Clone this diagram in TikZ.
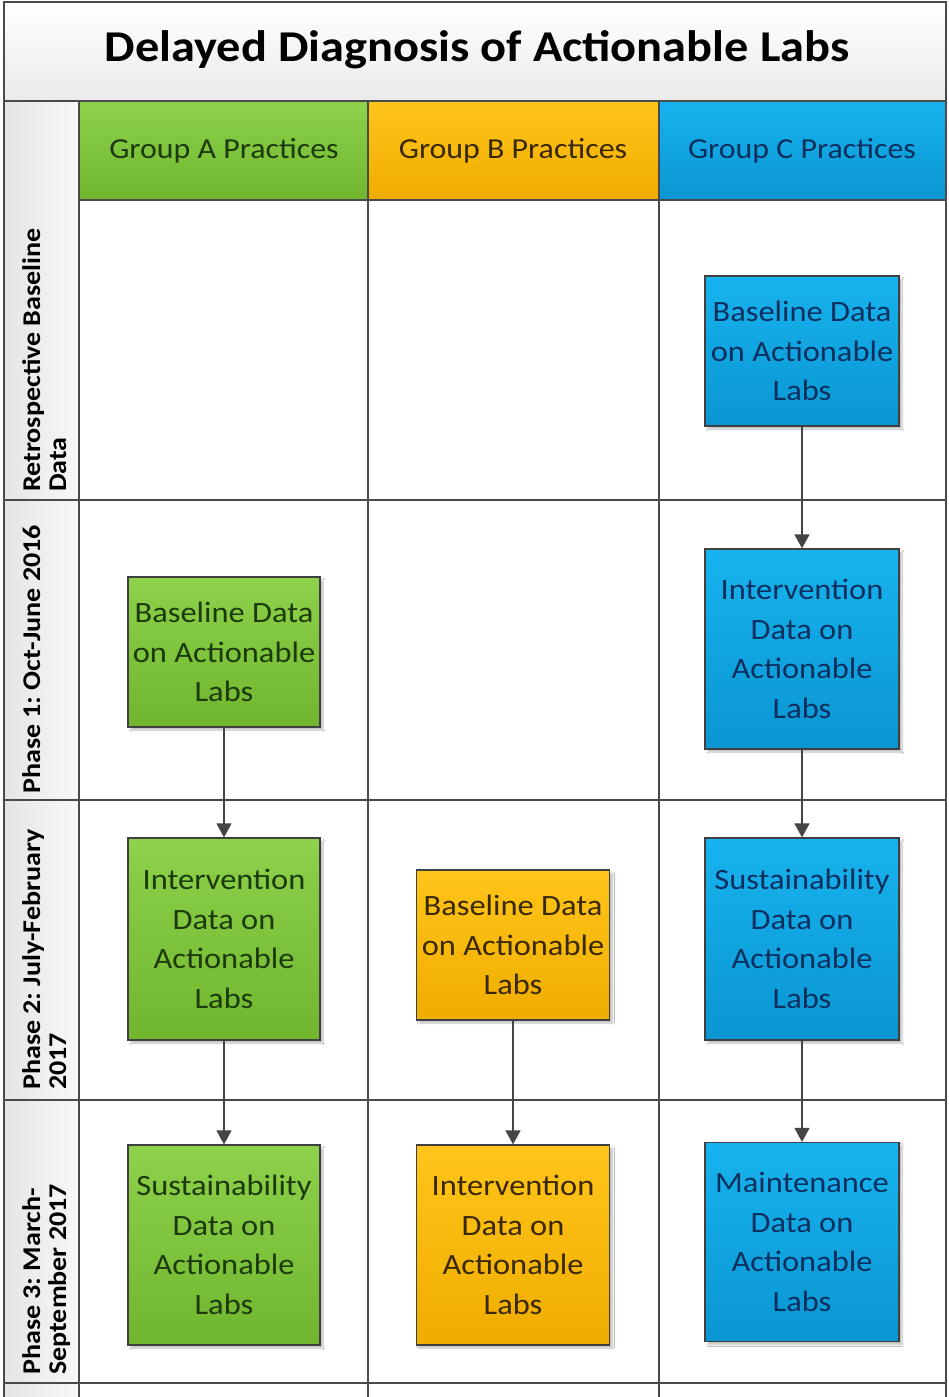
\documentclass[tikz,border=0pt]{standalone}
\usepackage{fontspec}
\setmainfont{Carlito}[FakeStretch=1.1]
\usetikzlibrary{arrows.meta,shadows.blur}
\frenchspacing

\definecolor{gridline}{HTML}{4A4A4A}
\definecolor{greenTop}{HTML}{8ED14B}
\definecolor{greenBot}{HTML}{6FB62E}
\definecolor{orangeTop}{HTML}{FFC51A}
\definecolor{orangeBot}{HTML}{F0AC00}
\definecolor{blueTop}{HTML}{17B3EE}
\definecolor{blueBot}{HTML}{0A96D2}
\definecolor{greenText}{HTML}{1C3A0C}
\definecolor{orangeText}{HTML}{3A2800}
\definecolor{blueText}{HTML}{0B2F5E}
\definecolor{arrowGray}{HTML}{454545}

\tikzset{
  grid/.style={draw=gridline, line width=1.4pt},
  databox/.style={draw=black!75, line width=1.2pt, align=center,
    font=\fontsize{29.5}{39.5}\selectfont, inner sep=0pt,
    blur shadow={shadow xshift=3pt, shadow yshift=-3pt, shadow blur steps=6, shadow opacity=25}},
  greenbox/.style={databox, top color=greenTop, bottom color=greenBot, text=greenText},
  orangebox/.style={databox, top color=orangeTop, bottom color=orangeBot, text=orangeText},
  bluebox/.style={databox, top color=blueTop, bottom color=blueBot, text=blueText},
  header/.style={font=\fontsize{29}{34}\selectfont},
  phaselabel/.style={rotate=90, anchor=base west, align=left, inner sep=0pt,
    font=\bfseries\fontsize{25.5}{26}\selectfont},
  flow/.style={draw=arrowGray, line width=1.3pt, -{Triangle[width=15pt,length=14pt]}}
}

\begin{document}
\begin{tikzpicture}[x=1pt, y=-1pt]
\useasboundingbox (0,0) rectangle (949,1397);
\fill[white] (0,0) rectangle (949,1397);

% title band
\shade[top color=white, bottom color=black!8] (4,2) rectangle (946,101);
\node[font=\bfseries\fontsize{44}{52}\selectfont] (title) at (477,50) {Delayed Diagnosis of Actionable Labs};

% phase label strip
\shade[left color=black!10, right color=black!3] (4,101) rectangle (79,1397);

% group header cells
\shade[top color=greenTop, bottom color=greenBot] (79,101) rectangle (368,200);
\shade[top color=orangeTop, bottom color=orangeBot] (368,101) rectangle (659,200);
\shade[top color=blueTop, bottom color=blueBot] (659,101) rectangle (946,200);
\node[header, text=greenText] (ha) at (224,151) {Group A Practices};
\node[header, text=orangeText] (hb) at (513,151) {Group B Practices};
\node[header, text=blueText] (hc) at (802,151) {Group C Practices};

% grid lines
\draw[grid] (79,200) -- (946,200);
\foreach \yy in {500,800,1100,1383} \draw[grid] (4,\yy) -- (946,\yy);
\foreach \xx in {79,368,659} \draw[grid] (\xx,101) -- (\xx,1397);
\draw[grid, line width=2.2pt] (4,101) -- (946,101);
\draw[grid] (4,1397) -- (4,2) -- (946,2) -- (946,1397);

% phase labels (read bottom to top; anchored on the last line's baseline)
\node[phaselabel] (p0) at (66,492) {Retrospective Baseline\\Data};
\node[phaselabel] (p1) at (40,794) {Phase 1: Oct-June 2016};
\node[phaselabel] (p2) at (66,1090) {Phase 2: July-February\\2017};
\node[phaselabel] (p3) at (66,1375) {Phase 3: March-\\September 2017};

% Group A
\node[greenbox, minimum width=192pt, minimum height=150pt] (a1) at (224,652) {Baseline Data\\on Actionable\\Labs};
\node[greenbox, minimum width=192pt, minimum height=202pt] (a2) at (224,939) {Intervention\\Data on\\Actionable\\Labs};
\node[greenbox, minimum width=192pt, minimum height=200pt] (a3) at (224,1245) {Sustainability\\Data on\\Actionable\\Labs};

% Group B
\node[orangebox, minimum width=193pt, minimum height=150pt] (b1) at (513,945) {Baseline Data\\on Actionable\\Labs};
\node[orangebox, minimum width=193pt, minimum height=200pt] (b2) at (513,1245) {Intervention\\Data on\\Actionable\\Labs};

% Group C
\node[bluebox, minimum width=194pt, minimum height=150pt] (c1) at (802,351) {Baseline Data\\on Actionable\\Labs};
\node[bluebox, minimum width=194pt, minimum height=200pt] (c2) at (802,649) {Intervention\\Data on\\Actionable\\Labs};
\node[bluebox, minimum width=194pt, minimum height=202pt] (c3) at (802,939) {Sustainability\\Data on\\Actionable\\Labs};
\node[bluebox, minimum width=194pt, minimum height=199pt] (c4) at (802,1242) {Maintenance\\Data on\\Actionable\\Labs};

% flow arrows
\draw[flow] (a1) -- (a2);
\draw[flow] (a2) -- (a3);
\draw[flow] (b1) -- (b2);
\draw[flow] (c1) -- (c2);
\draw[flow] (c2) -- (c3);
\draw[flow] (c3) -- (c4);
\end{tikzpicture}
\end{document}
